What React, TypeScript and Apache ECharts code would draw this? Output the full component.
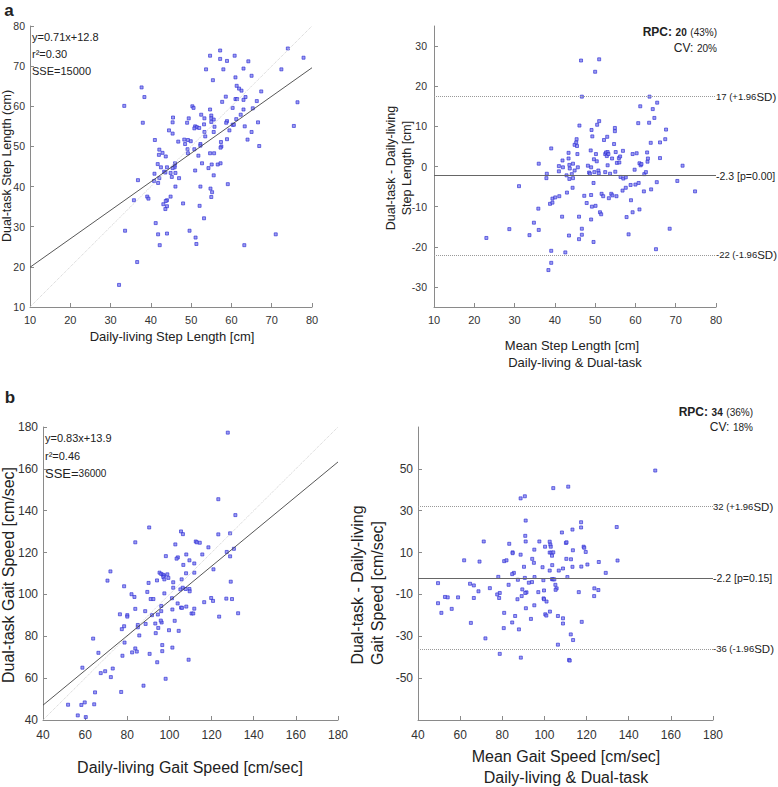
import React, { useEffect, useRef } from "react";
import * as echarts from "echarts";

// ---------- Panel a (step length) ----------
const stepTicks = [10, 20, 30, 40, 50, 60, 70, 80];
const stepDiffTicks = [-30, -20, -10, 0, 10, 20, 30];
const stepIdentity = [[10, 10], [80, 80]];
const stepFit = [[10, 19.9], [80, 69.6]];
const stepScatter = [
  [74.0, 74.4], [77.9, 72.1], [57.2, 73.9], [54.7, 72.6], [60.8, 72.6], [57.2, 71.8], [58.9, 71.3], [64.2, 71.2],
  [53.7, 69.2], [58.0, 69.2], [63.0, 69.4], [72.4, 69.2], [55.4, 66.5], [65.0, 67.6], [61.0, 67.2], [61.3, 65.1],
  [61.9, 64.4], [62.5, 63.9], [67.4, 63.7], [58.6, 62.4], [63.5, 62.3], [61.0, 61.8], [61.4, 61.8], [63.0, 61.6],
  [57.7, 61.1], [66.3, 61.3], [76.4, 61.0], [33.4, 60.1], [37.7, 64.7], [38.4, 62.3], [38.0, 55.9], [50.3, 60.0],
  [50.6, 59.6], [54.7, 59.2], [60.3, 59.6], [65.3, 59.5], [63.0, 59.2], [62.3, 57.9], [52.5, 57.9], [55.0, 57.7],
  [55.0, 57.0], [53.3, 57.0], [49.4, 57.0], [45.5, 57.2], [55.6, 56.7], [61.2, 56.8], [58.9, 56.3], [45.4, 56.0],
  [49.0, 55.9], [55.0, 56.1], [53.2, 55.5], [58.7, 55.9], [60.3, 55.4], [60.6, 55.4], [66.6, 56.0], [51.0, 55.0],
  [51.4, 54.8], [52.0, 54.6], [55.8, 54.9], [50.8, 54.5], [63.3, 55.0], [75.5, 55.1], [53.3, 53.6], [55.6, 53.6],
  [44.5, 54.0], [45.4, 53.2], [59.5, 54.0], [65.0, 53.6], [49.2, 51.6], [48.3, 51.7], [41.0, 51.6], [53.5, 52.5],
  [58.9, 51.8], [64.0, 51.7], [46.8, 51.2], [49.9, 51.3], [52.3, 50.6], [48.5, 50.6], [57.4, 51.1], [57.5, 50.0],
  [66.9, 50.1], [50.8, 49.3], [52.3, 50.2], [49.1, 49.3], [57.3, 49.7], [42.1, 49.2], [42.9, 48.4], [42.0, 47.9],
  [43.7, 47.5], [49.2, 48.3], [51.8, 47.7], [54.7, 48.3], [55.7, 48.3], [41.7, 45.6], [46.0, 45.8], [52.7, 45.8],
  [55.1, 45.5], [56.6, 45.5], [57.3, 45.8], [45.9, 45.2], [45.9, 44.8], [42.5, 44.8], [44.0, 44.8], [45.4, 44.6],
  [54.3, 44.6], [51.0, 44.0], [40.9, 43.2], [43.3, 43.7], [43.6, 43.5], [44.9, 43.4], [46.1, 43.4], [55.6, 42.8],
  [45.2, 42.4], [42.1, 42.1], [47.0, 42.1], [36.8, 41.6], [40.8, 41.4], [41.8, 40.9], [46.1, 40.0], [52.3, 40.0],
  [59.1, 40.6], [54.8, 39.5], [55.2, 38.6], [55.0, 37.4], [39.1, 37.5], [39.4, 37.0], [35.8, 36.6], [44.9, 37.5],
  [48.0, 35.8], [44.0, 36.6], [43.7, 36.4], [43.1, 35.6], [44.0, 35.1], [43.6, 34.4], [52.1, 35.2], [53.2, 32.1],
  [41.2, 30.9], [33.6, 29.0], [49.6, 29.0], [41.8, 28.1], [44.0, 28.3], [71.0, 28.1], [51.1, 27.3], [51.3, 25.7],
  [42.2, 25.4], [63.2, 25.4], [36.6, 21.2], [32.1, 15.5],
];
const stepBA = [
  [23.0, -17.8], [28.7, -15.6], [31.1, -4.9], [33.7, -17.1], [34.8, -14.0], [35.9, -10.5], [36.0, -15.8], [36.0, 0.7],
  [38.0, -1.8], [37.9, -2.9], [39.1, 4.5], [38.8, -9.3], [39.4, -9.0], [39.4, -8.0], [40.1, -7.7], [39.1, -21.0],
  [39.1, -24.0], [38.4, -25.8], [41.1, -7.4], [41.0, 0.1], [41.0, -1.2], [41.9, 1.5], [41.8, -12.5], [42.0, -0.2],
  [42.6, -21.4], [42.9, -2.2], [43.0, -6.5], [43.4, 3.4], [43.4, 2.0], [43.6, 0.4], [43.7, -0.5], [43.5, -17.2],
  [43.6, -3.1], [44.2, -1.9], [44.5, 0.7], [44.5, -2.9], [44.4, -5.3], [44.9, -1.0], [44.9, 5.4], [45.3, 6.0],
  [45.4, 6.8], [45.5, 5.1], [45.6, 3.1], [45.7, -0.2], [46.1, 10.2], [46.0, -12.5], [46.0, -18.1], [46.5, 26.4],
  [46.7, 17.4], [46.7, -15.5], [46.7, -17.0], [47.3, -7.3], [47.9, -9.1], [48.2, 0.2], [48.5, -1.5], [48.7, -1.8],
  [48.9, 4.0], [49.0, -0.2], [49.0, -7.1], [49.0, -13.2], [49.1, 9.1], [49.3, 7.5], [49.2, -10.0], [49.6, -4.1],
  [49.7, 1.8], [49.8, -1.4], [50.0, 23.6], [50.2, 3.1], [50.4, 1.3], [50.1, -9.8], [49.6, -18.8], [50.5, 10.4],
  [50.8, -1.0], [51.0, 26.7], [51.0, 11.3], [50.9, -1.7], [51.2, -11.4], [51.5, -11.9], [51.6, -6.8], [52.0, -7.4],
  [52.2, 6.6], [52.5, 3.1], [52.5, -1.4], [52.7, 3.5], [52.9, 2.6], [53.0, 7.4], [53.1, 0.3], [53.1, 3.6],
  [53.3, 3.1], [53.4, -7.9], [53.7, -1.8], [54.0, -6.8], [54.2, 2.0], [54.3, -7.2], [54.7, 5.6], [54.9, 9.6],
  [54.9, 8.8], [55.1, 3.6], [55.0, -1.3], [55.3, -7.4], [55.4, 0.9], [55.9, 2.1], [56.0, 1.0], [56.2, 2.5],
  [56.3, -2.6], [56.8, -6.0], [56.9, 3.9], [57.0, -3.0], [57.6, -2.7], [57.6, -5.3], [57.8, -12.6], [58.3, -16.9],
  [58.8, -4.6], [58.9, -8.4], [59.3, 3.1], [59.3, -11.4], [59.8, -0.8], [60.0, -4.5], [60.3, 3.3], [60.7, 10.8],
  [60.8, -4.1], [61.0, 0.8], [61.0, -10.7], [61.2, 15.0], [61.3, 0.3], [61.5, 0.6], [62.1, -6.2], [62.2, -1.9],
  [62.6, -1.4], [62.9, 3.5], [63.0, 1.2], [63.1, 2.0], [63.4, 10.9], [63.5, 17.4], [63.8, 5.9], [63.9, -5.7],
  [64.3, 14.3], [64.7, 12.1], [65.3, -3.9], [65.1, -20.6], [65.4, 15.9], [66.1, 6.0], [66.1, 2.1], [67.4, 6.8],
  [67.6, 9.2], [68.5, -15.5], [70.4, -3.6], [71.7, 0.2], [74.8, -6.2],
];
const stepLimits = [17.4, -2.3, -22.0];
const stepLimitLabels = ["{n|17 (+1.96}{s|SD)}", "{m|-2.3 [p=0.00]}", "{n|-22 (-1.96}{s|SD)}"];

// ---------- Panel b (gait speed) ----------
const speedTicks = [40, 60, 80, 100, 120, 140, 160, 180];
const speedDiffTicks = [-50, -30, -10, 10, 30, 50];
const speedIdentity = [[40, 40], [180, 180]];
const speedFit = [[40, 47.1], [180, 163.3]];
const speedScatter = [
  [127.7, 177.3], [123.2, 145.5], [131.3, 137.9], [90.4, 132.0], [105.5, 130.1], [106.4, 128.8], [123.2, 128.7],
  [128.8, 129.2], [83.8, 124.9], [112.5, 125.3], [113.0, 124.9], [114.4, 124.7], [102.8, 123.9], [118.5, 122.5],
  [130.6, 121.8], [127.2, 120.3], [115.6, 119.1], [108.0, 119.1], [98.3, 118.3], [104.0, 117.7], [103.4, 117.1],
  [128.8, 118.2], [109.5, 116.3], [111.8, 114.8], [106.6, 114.1], [120.9, 112.0], [72.0, 111.0], [95.3, 110.4],
  [96.1, 109.8], [96.9, 109.4], [97.4, 109.0], [99.0, 109.6], [107.9, 110.1], [111.8, 110.4], [70.6, 106.6],
  [94.1, 106.7], [97.1, 108.3], [99.5, 107.9], [97.6, 107.2], [105.8, 107.2], [101.8, 105.8], [129.1, 106.1],
  [90.1, 105.5], [78.5, 103.9], [101.8, 103.2], [106.3, 103.2], [107.7, 102.6], [105.2, 102.4], [109.5, 102.6],
  [109.6, 101.5], [82.0, 100.1], [83.4, 98.8], [89.5, 101.2], [97.6, 100.5], [101.2, 98.2], [91.1, 97.8],
  [92.4, 97.8], [116.5, 96.3], [119.8, 98.3], [120.7, 96.9], [127.0, 98.0], [129.7, 97.8], [103.9, 95.7],
  [105.5, 93.7], [106.0, 93.6], [108.0, 94.2], [111.8, 93.2], [83.8, 93.1], [96.1, 94.5], [88.5, 92.0],
  [96.1, 92.0], [101.4, 92.8], [110.5, 90.9], [111.3, 90.9], [132.6, 91.0], [76.5, 90.5], [80.0, 90.1],
  [80.0, 89.4], [91.7, 90.1], [94.5, 90.4], [123.6, 89.4], [93.3, 86.1], [102.5, 87.4], [96.3, 86.6],
  [95.9, 87.5], [88.7, 85.9], [78.5, 84.8], [77.4, 83.4], [85.0, 85.4], [85.0, 84.3], [94.7, 84.0],
  [93.5, 81.5], [99.8, 82.9], [104.4, 82.6], [85.7, 80.4], [63.8, 78.9], [78.7, 77.0], [96.6, 75.8],
  [101.4, 74.6], [83.8, 74.2], [84.5, 72.7], [96.6, 72.9], [66.3, 72.1], [82.3, 72.3], [90.6, 71.6],
  [77.7, 70.7], [109.1, 68.8], [94.2, 67.6], [58.7, 65.0], [73.1, 64.6], [69.5, 63.3], [67.4, 62.4],
  [72.2, 60.5], [98.2, 59.7], [87.7, 56.4], [64.7, 53.2], [77.1, 53.4], [59.8, 48.4], [58.2, 47.2],
  [51.9, 47.3], [64.3, 47.5], [56.5, 42.2], [60.3, 41.4],
];
const speedBA = [
  [152.6, 49.2], [104.2, 40.8], [111.3, 41.5], [88.7, 35.9], [90.7, 36.9], [91.1, 25.3], [117.4, 24.5], [117.4, 22.0],
  [113.3, 21.0], [134.3, 22.2], [108.3, 19.6], [90.9, 18.0], [71.2, 15.3], [97.6, 15.3], [102.5, 15.2], [91.1, 15.3],
  [110.2, 14.6], [110.5, 14.9], [83.3, 14.2], [102.8, 13.8], [100.3, 12.8], [103.0, 12.8], [118.6, 12.8], [118.9, 12.3],
  [95.2, 11.4], [113.5, 11.1], [119.6, 10.3], [84.9, 10.1], [84.9, 9.7], [102.5, 10.0], [103.3, 10.0], [104.2, 10.1],
  [88.7, 9.0], [103.6, 8.5], [61.9, 6.3], [80.9, 5.9], [82.0, 6.3], [69.2, 5.7], [94.2, 7.0], [110.4, 7.0],
  [112.6, 6.8], [95.0, 5.1], [125.8, 5.5], [134.7, 6.2], [120.4, 4.3], [90.3, 3.2], [99.1, 3.0], [103.7, 4.0],
  [113.3, 3.2], [117.5, 3.3], [108.8, 2.4], [106.8, 1.4], [102.5, 1.4], [85.5, 0.3], [84.7, -0.3], [129.1, 0.3],
  [78.1, -1.6], [90.7, -2.1], [95.3, -1.7], [110.9, -1.7], [103.6, -2.7], [104.1, -2.8], [104.7, -2.8], [99.5, -3.2],
  [87.4, -3.0], [49.5, -4.6], [64.7, -4.9], [94.1, -4.1], [92.6, -4.4], [83.0, -5.4], [66.5, -5.7], [105.2, -5.4],
  [74.1, -7.0], [105.8, -7.1], [105.3, -7.8], [123.7, -7.1], [89.5, -7.6], [125.6, -7.9], [68.7, -8.5], [91.5, -9.0],
  [90.9, -9.3], [97.1, -8.9], [116.3, -8.9], [99.8, -8.1], [78.8, -9.3], [77.6, -10.0], [89.2, -10.8], [123.6, -10.8],
  [52.8, -11.2], [54.1, -11.4], [59.0, -11.4], [66.5, -11.7], [78.5, -11.7], [99.6, -11.9], [87.2, -12.3], [99.8, -12.3],
  [101.0, -13.4], [49.5, -14.2], [95.2, -15.2], [56.0, -16.9], [91.2, -16.6], [102.6, -18.2], [80.9, -18.8], [51.1, -18.8],
  [100.4, -19.5], [100.9, -20.1], [86.1, -20.3], [106.4, -20.3], [108.8, -21.4], [93.6, -21.7], [65.1, -23.6], [84.7, -23.4],
  [108.8, -23.9], [117.7, -23.1], [80.7, -26.1], [87.9, -26.7], [72.0, -31.0], [112.5, -29.1], [113.6, -31.8], [106.4, -34.0],
  [78.8, -38.4], [88.8, -40.2], [111.7, -41.3], [112.0, -41.6],
];
const speedLimits = [32.0, -2.2, -36.0];
const speedLimitLabels = ["{n|32 (+1.96}{s|SD)}", "{m|-2.2 [p=0.15]}", "{n|-36 (-1.96}{s|SD)}"];

const FONT = "Liberation Sans";
const AXIS_COLOR = "#8a8a8a";
const TEXT_COLOR = "#222";

function valueAxis(gridIndex: number, min: number, max: number, ticks: number[], fs: number, margin: number) {
  return {
    type: "value",
    gridIndex,
    min,
    max,
    axisLine: { show: true, onZero: false, lineStyle: { color: AXIS_COLOR, width: 1 } },
    axisTick: { show: true, inside: true, length: 4, customValues: ticks, lineStyle: { color: AXIS_COLOR } },
    axisLabel: { color: "#333", fontSize: fs, fontFamily: FONT, margin, customValues: ticks },
    splitLine: { show: false },
  };
}

const scatterStyle = {
  color: "#8585ee",
  borderColor: "#2a2ad4",
  borderWidth: 0.8,
};

function limitMarkLine(values: number[], labels: string[]) {
  return {
    silent: true,
    symbol: ["none", "none"],
    label: {
      position: "end",
      distance: 0,
      fontFamily: FONT,
      color: TEXT_COLOR,
      rich: {
        n: { fontSize: 9.5, fontFamily: FONT, color: TEXT_COLOR },
        s: { fontSize: 11.5, fontFamily: FONT, color: TEXT_COLOR },
        m: { fontSize: 10.5, fontFamily: FONT, color: TEXT_COLOR },
      },
    },
    data: values.map((v, i) => ({
      yAxis: v,
      label: { formatter: labels[i] },
      lineStyle: i === 1 ? { type: "solid", color: "#666", width: 1 } : { type: "dotted", color: "#999", width: 1 },
    })),
  };
}

function text(t: string, x: number, y: number, o: any = {}) {
  return {
    type: "text",
    x,
    y,
    rotation: o.rot || 0,
    silent: true,
    style: {
      text: t,
      fontSize: o.fs || 13,
      fontFamily: FONT,
      fontWeight: o.fw || "normal",
      fill: TEXT_COLOR,
      textAlign: o.align || "center",
      textVerticalAlign: "middle",
      rich: o.rich,
    },
  };
}

export default function App() {
  const ref = useRef<HTMLDivElement>(null);
  useEffect(() => {
    document.body.style.margin = "0";
    if (!ref.current) return;
    const chart = echarts.init(ref.current, undefined, { renderer: "svg" });
    const R = Math.PI / 2;
    const option: any = {
      animation: false,
      backgroundColor: "#fff",
      grid: [
        { left: 30, top: 26, width: 282, height: 281 },
        { left: 434, top: 26, width: 282, height: 281 },
        { left: 43, top: 427, width: 295, height: 293 },
        { left: 418, top: 427, width: 295, height: 293 },
      ],
      xAxis: [
        valueAxis(0, 10, 80, stepTicks, 11, 7),
        valueAxis(1, 10, 80, stepTicks, 11, 7),
        valueAxis(2, 40, 180, speedTicks, 12, 9),
        valueAxis(3, 40, 180, speedTicks, 12, 9),
      ],
      yAxis: [
        valueAxis(0, 10, 80, stepTicks, 10.5, 5),
        valueAxis(1, -35, 35, stepDiffTicks, 10.5, 7),
        valueAxis(2, 40, 180, speedTicks, 12, 5),
        valueAxis(3, -70, 70, speedDiffTicks, 12, 5),
      ],
      series: [
        { type: "line", xAxisIndex: 0, yAxisIndex: 0, data: stepIdentity, symbol: "none", silent: true,
          lineStyle: { color: "#cfcfcf", width: 1, type: "dotted" } },
        { type: "line", xAxisIndex: 0, yAxisIndex: 0, data: stepFit, symbol: "none", silent: true,
          lineStyle: { color: "#444", width: 0.9 } },
        { type: "scatter", xAxisIndex: 0, yAxisIndex: 0, data: stepScatter, symbol: "rect", symbolSize: 3,
          itemStyle: scatterStyle },
        { type: "scatter", xAxisIndex: 1, yAxisIndex: 1, data: stepBA, symbol: "rect", symbolSize: 3,
          itemStyle: scatterStyle, markLine: limitMarkLine(stepLimits, stepLimitLabels) },
        { type: "line", xAxisIndex: 2, yAxisIndex: 2, data: speedIdentity, symbol: "none", silent: true,
          lineStyle: { color: "#cfcfcf", width: 1, type: "dotted" } },
        { type: "line", xAxisIndex: 2, yAxisIndex: 2, data: speedFit, symbol: "none", silent: true,
          lineStyle: { color: "#444", width: 0.9 } },
        { type: "scatter", xAxisIndex: 2, yAxisIndex: 2, data: speedScatter, symbol: "rect", symbolSize: 3,
          itemStyle: scatterStyle },
        { type: "scatter", xAxisIndex: 3, yAxisIndex: 3, data: speedBA, symbol: "rect", symbolSize: 3,
          itemStyle: scatterStyle, markLine: limitMarkLine(speedLimits, speedLimitLabels) },
      ],
      graphic: [
        text("a", 9, 10, { fs: 17, fw: "bold" }),
        text("b", 10, 397, { fs: 17, fw: "bold" }),
        // panel a left
        text("y=0.71x+12.8", 32, 37, { fs: 11, align: "left" }),
        text("r²=0.30", 32, 54, { fs: 11, align: "left" }),
        text("SSE=15000", 32, 71, { fs: 11, align: "left" }),
        text("Dual-task Step Length (cm)", 6.5, 166, { fs: 12.5, rot: R }),
        text("Daily-living Step Length [cm]", 172, 336, { fs: 13 }),
        // panel a right
        text("{b|RPC:} {c|20} {d|(43%)}", 717, 32, {
          align: "right",
          rich: {
            b: { fontSize: 12, fontWeight: "bold", fontFamily: FONT, fill: TEXT_COLOR },
            c: { fontSize: 10, fontWeight: "bold", fontFamily: FONT, fill: TEXT_COLOR },
            d: { fontSize: 10, fontFamily: FONT, fill: TEXT_COLOR },
          },
        }),
        text("{e|CV:} {d|20%}", 717, 48, {
          align: "right",
          rich: {
            e: { fontSize: 12, fontFamily: FONT, fill: TEXT_COLOR },
            d: { fontSize: 10, fontFamily: FONT, fill: TEXT_COLOR },
          },
        }),
        text("Dual-task - Daily-living", 391, 168, { fs: 12.5, rot: R }),
        text("Step Length [cm]", 406.5, 168, { fs: 12.5, rot: R }),
        text("Mean Step Length [cm]", 572, 345, { fs: 13 }),
        text("Daily-living & Dual-task", 575, 362, { fs: 13 }),
        // panel b left
        text("y=0.83x+13.9", 45, 438, { fs: 11, align: "left" }),
        text("r²=0.46", 45, 456, { fs: 11, align: "left" }),
        text("{a|SSE=}{b|36000}", 45, 473, {
          align: "left",
          rich: {
            a: { fontSize: 13, fontFamily: FONT, fill: TEXT_COLOR },
            b: { fontSize: 10, fontFamily: FONT, fill: TEXT_COLOR },
          },
        }),
        text("Dual-task Gait Speed [cm/sec]", 8, 575, { fs: 16, rot: R }),
        text("Daily-living Gait Speed [cm/sec]", 190, 767, { fs: 16 }),
        // panel b right
        text("{b|RPC:} {c|34} {d|(36%)}", 753, 412, {
          align: "right",
          rich: {
            b: { fontSize: 12, fontWeight: "bold", fontFamily: FONT, fill: TEXT_COLOR },
            c: { fontSize: 10, fontWeight: "bold", fontFamily: FONT, fill: TEXT_COLOR },
            d: { fontSize: 10, fontFamily: FONT, fill: TEXT_COLOR },
          },
        }),
        text("{e|CV:} {d|18%}", 753, 427, {
          align: "right",
          rich: {
            e: { fontSize: 12, fontFamily: FONT, fill: TEXT_COLOR },
            d: { fontSize: 10, fontFamily: FONT, fill: TEXT_COLOR },
          },
        }),
        text("Dual-task - Daily-living", 357, 585, { fs: 16, rot: R }),
        text("Gait Speed [cm/sec]", 377, 593, { fs: 16, rot: R }),
        text("Mean Gait Speed [cm/sec]", 566, 756, { fs: 16 }),
        text("Daily-living & Dual-task", 566, 777, { fs: 16 }),
      ],
    };
    chart.setOption(option);
    return () => chart.dispose();
  }, []);
  return <div ref={ref} style={{ width: 778, height: 787 }} />;
}
